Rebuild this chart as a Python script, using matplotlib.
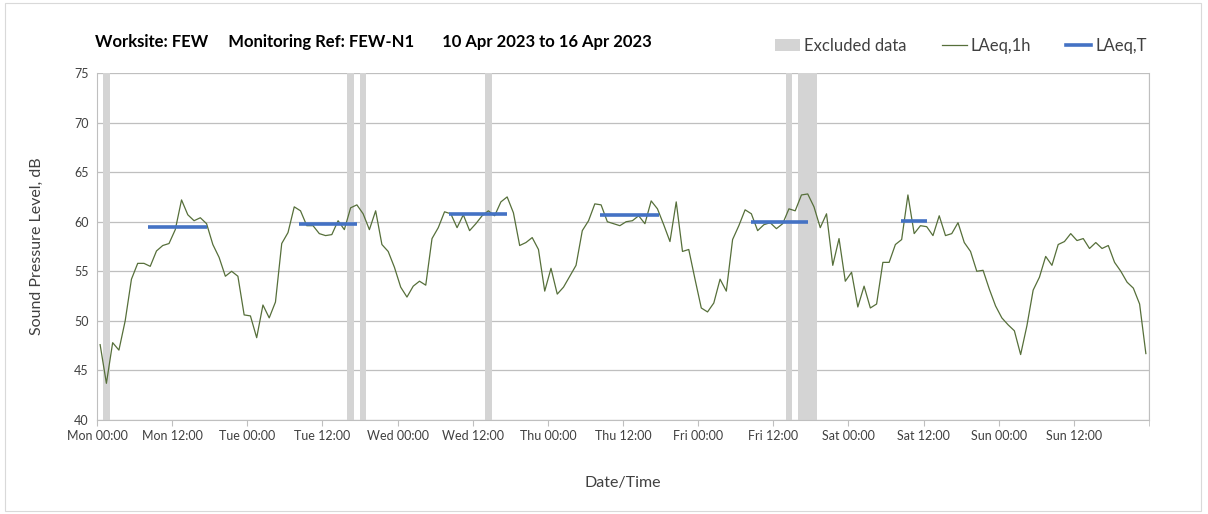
import numpy as np
import matplotlib
matplotlib.use("Agg")
import matplotlib.pyplot as plt
from matplotlib.patches import Patch, Rectangle
from matplotlib.lines import Line2D

plt.rcParams['font.family'] = ['Lato', 'DejaVu Sans']

# ---- data ----
laeq_1h = [
    47.6, 43.7, 47.8, 47.05, 50.0, 54.2, 55.8, 55.8, 55.5, 57.05, 57.6, 57.8, 59.2, 62.2, 60.7, 60.1,
    60.4, 59.8, 57.7, 56.4, 54.5, 55.0, 54.5, 50.6, 50.5, 48.3, 51.6, 50.3, 51.9,
    57.8, 58.9, 61.5, 61.1, 59.6, 59.6, 58.8, 58.6, 58.7, 60.1, 59.2, 61.4, 61.7, 60.8, 59.2, 61.1,
    57.7, 57.0, 55.4, 53.4, 52.4, 53.5, 54.0, 53.6, 58.3, 59.4, 61.0,
    60.8, 59.4, 60.7, 59.1, 59.8, 60.6, 61.1, 60.6, 62.0, 62.5, 60.9, 57.6, 57.9, 58.4, 57.2, 53.0,
    55.3, 52.7, 53.4, 54.5, 55.6, 59.1, 60.1, 61.8, 61.7, 60.0, 59.8, 59.6,
    60.0, 60.1, 60.6, 59.8, 62.1, 61.3, 59.7, 58.0, 62.0, 57.0, 57.2, 54.2, 51.3, 50.9, 51.8, 54.2,
    53.0, 58.2, 59.6, 61.2, 60.8, 59.1, 59.7, 59.9, 59.3, 59.8, 61.3, 61.1,
    62.7, 62.8, 61.5, 59.4, 60.8, 55.6, 58.3, 54.0, 54.9, 51.4, 53.5, 51.3, 51.7, 55.9, 55.9, 57.7,
    58.2, 62.7, 58.8, 59.6, 59.5, 58.6, 60.6, 58.6, 58.8, 59.9, 57.9, 57.0,
    55.0, 55.1, 53.2, 51.5, 50.3, 49.6, 49.0, 46.6, 49.5, 53.1, 54.4, 56.5, 55.6, 57.7, 58.0, 58.8,
    58.1, 58.3, 57.3, 57.9, 57.3, 57.6, 55.9, 55.0, 53.9, 53.3, 51.7, 46.7,
]
hours = np.arange(len(laeq_1h)) + 0.5   # hour-centred samples from Mon 00:00

laeq_t_start = [8.2, 32.3, 56.2, 80.3, 104.4, 128.4]
laeq_t_end = [17.5, 41.6, 65.5, 89.7, 113.6, 132.6]
laeq_t_value = [59.5, 59.8, 60.8, 60.65, 60.0, 60.1]

excluded_start = [1, 40, 42, 62, 110, 112]
excluded_end = [2, 41, 43, 63, 111, 115]

tick_hours = list(range(0, 168, 12))
tick_labels = ["Mon 00:00", "Mon 12:00", "Tue 00:00", "Tue 12:00", "Wed 00:00", "Wed 12:00",
               "Thu 00:00", "Thu 12:00", "Fri 00:00", "Fri 12:00", "Sat 00:00", "Sat 12:00",
               "Sun 00:00", "Sun 12:00"]

# ---- figure ----
fig = plt.figure(figsize=(12.08, 5.14), dpi=100)
ax = fig.add_axes([97/1208, 1-420/514, 1052/1208, 347/514])

green = "#566f3a"
blue = "#4472c4"
band = "#d4d4d4"

for s, e in zip(excluded_start, excluded_end):
    ax.axvspan(s, e, color=band, lw=0, zorder=1)

ax.plot(hours, laeq_1h, color=green, lw=0.9, zorder=3)
for s, e, v in zip(laeq_t_start, laeq_t_end, laeq_t_value):
    ax.plot([s, e], [v, v], color=blue, lw=2.6, solid_capstyle='butt', zorder=4)

ax.set_xlim(0, 168)
ax.set_ylim(40, 75)
ax.set_yticks(range(40, 76, 5))
ax.set_xticks(tick_hours)
ax.set_xticklabels(tick_labels)
ax.set_xticks(range(0, 169, 24), minor=True)

ax.grid(axis='y', which='major', color='#bfbfbf', lw=0.9, zorder=0)
ax.grid(axis='x', which='minor', color='#d9d9d9', lw=0.9, zorder=0)
ax.set_axisbelow(True)

ax.spines['top'].set_visible(False)
ax.spines['left'].set_color('#bfbfbf')
ax.spines['right'].set_color('#bfbfbf')
ax.spines['bottom'].set_color('#bfbfbf')
ax.tick_params(axis='both', which='major', labelsize=9, colors='#404040',
               length=4, color='#bfbfbf')
ax.tick_params(axis='x', which='minor', length=4, color='#bfbfbf')
ax.tick_params(axis='y', length=0, pad=6)

ax.set_ylabel("Sound Pressure Level, dB", fontsize=11.5, color='#404040', labelpad=22)
ax.set_xlabel("Date/Time", fontsize=11.5, color='#404040', labelpad=24)

fig.text(95/1208, 1-42/514,
         "Worksite: FEW     Monitoring Ref: FEW-N1       10 Apr 2023 to 16 Apr 2023",
         fontsize=12, fontweight='bold', color='#000000', va='center', ha='left')

handles = [Patch(facecolor=band, edgecolor='none'),
           Line2D([0], [0], color=green, lw=0.9),
           Line2D([0], [0], color=blue, lw=2.6)]
leg = fig.legend(handles, ["Excluded data", "LAeq,1h", "LAeq,T"], ncol=3, frameon=False,
                 loc='center left', bbox_to_anchor=(775/1208, 1-46/514), fontsize=12,
                 borderpad=0, borderaxespad=0,
                 handlelength=1.5, handleheight=0.7, columnspacing=2.1, handletextpad=0.25)
for t in leg.get_texts():
    t.set_color('#404040')

# outer chart border
fig.add_artist(Rectangle((5/1208, 3/514), 1196/1208, 508/514, transform=fig.transFigure,
                         fill=False, edgecolor='#d9d9d9', lw=0.8))

fig.savefig("out.png", dpi=100)
